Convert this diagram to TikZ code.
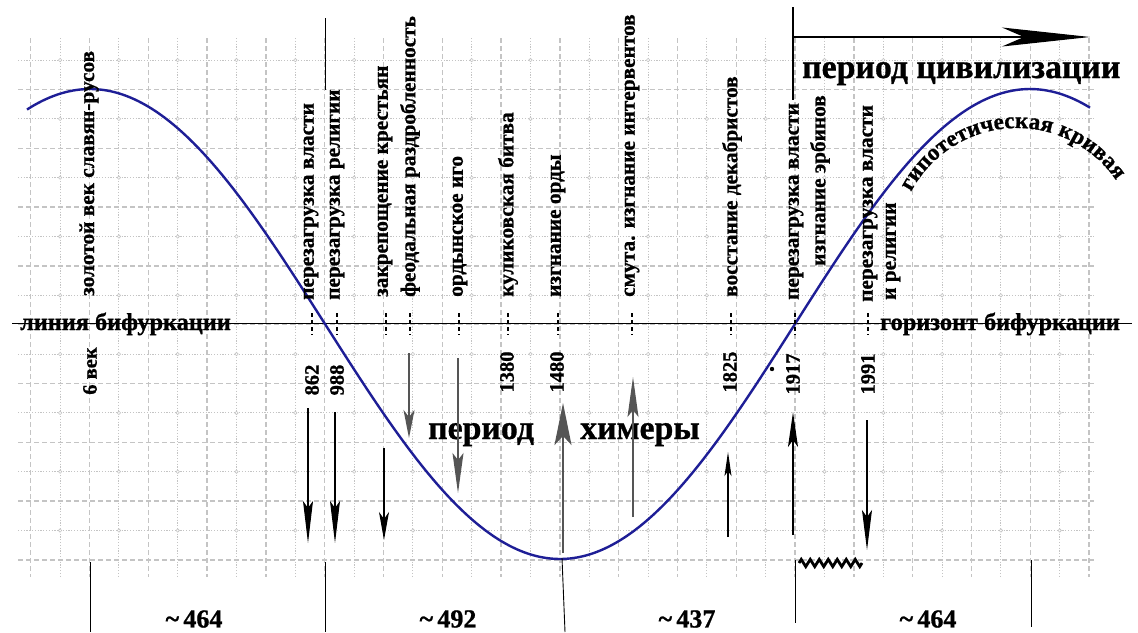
\documentclass[tikz,border=0pt]{standalone}
\usepackage{fontspec}
\setmainfont{Liberation Serif}[BoldFeatures={FakeBold=0.9}]
\usetikzlibrary{arrows.meta,decorations.pathmorphing}
\definecolor{gridc}{RGB}{196,196,196}
\definecolor{curvec}{RGB}{30,30,150}
\definecolor{arrg}{RGB}{85,85,85}
\newcommand{\curvfont}{\fontsize{23}{23}\selectfont\bfseries}
\begin{document}
\begin{tikzpicture}[x=1pt,y=-1pt,
  majorg/.style={draw=gridc,line width=1.3pt,dash pattern=on 5pt off 3pt},
  minorg/.style={draw=gridc,line width=0.9pt,dash pattern=on 1.2pt off 1.6pt},
  vlab/.style={rotate=90,anchor=west,font=\fontsize{21.3}{21.3}\selectfont\bfseries,inner sep=0pt},
  vlabe/.style={rotate=90,anchor=east,font=\fontsize{21.3}{21.3}\selectfont\bfseries,inner sep=0pt},
  yr/.style={rotate=90,font=\fontsize{20.5}{20.5}\selectfont\bfseries,inner sep=0pt},
  bigt/.style={anchor=base west,font=\fontsize{33.8}{33.8}\selectfont\bfseries,inner sep=0pt},
  midt/.style={anchor=base west,font=\fontsize{24.3}{24.3}\selectfont\bfseries,inner sep=0pt},
  numt/.style={font=\fontsize{26}{26}\selectfont\bfseries,inner sep=0pt},
  letter/.style={anchor=base,inner sep=0pt,font=\curvfont},
  evmark/.style={line width=2.2pt,dash pattern=on 4pt off 3pt},
  blk/.style={draw=black,line width=1.2pt,-{Stealth[length=#1,width=10pt,inset=7pt]}},
  gry/.style={draw=arrg,line width=1.4pt,-{Stealth[length=#1,width=11pt,inset=7pt]}},
  divl/.style={draw=black,line width=0.9pt},
  curvest/.style={draw=curvec,line width=2.4pt}
]
\useasboundingbox (0,0) rectangle (1138,632);
\fill[white] (0,0) rectangle (1138,632);
% grid
\foreach \i in {0,...,17} \draw[minorg] ({60.1+58.8*\i},38) -- ({60.1+58.8*\i},577);
\foreach \j in {0,...,8} \draw[minorg] (18,{60.1+58.8*\j}) -- (1094,{60.1+58.8*\j});
\foreach \i in {0,...,18} \draw[majorg] ({30.7+58.8*\i},38) -- ({30.7+58.8*\i},577);
\foreach \j in {0,...,8} \draw[majorg] (18,{89.5+58.8*\j}) -- (1094,{89.5+58.8*\j});
\foreach \i in {0,...,17} \foreach \j in {0,...,8}
  \draw[gridc,line width=0.6pt,fill=white] ({60.1+58.8*\i},{60.1+58.8*\j}) circle (1.7pt);
% bifurcation line
\coordinate (bl) at (12,323.5);
\coordinate (br) at (1132,323.5);
\draw[line width=1.4pt] (bl) -- (br);
% main curve
\draw[curvest] plot[domain=27:1090,samples=140,smooth] (\x,{324-235*cos((\x-90)*0.382979)});
\fill (772,369) circle (2.2pt);
% event marks on the line
\foreach \x in {312,337,386,410,459,508,558,632,731,795,868}
  \draw[evmark] (\x,313) -- (\x,335);
% vertical labels
\node[vlab] (l1) at (89,296) {золотой век славян-русов};
\node[vlab] (l2) at (311,300) {перезагрузка власти};
\node[vlab] (l3) at (337,300) {перезагрузка религии};
\node[vlab] (l4) at (385,297) {закрепощение крестьян};
\node[vlab] (l5) at (410,297) {феодальная раздробленность};
\node[vlab] (l6) at (460,297) {ордынское иго};
\node[vlab] (l7) at (508,297) {куликовская битва};
\node[vlab] (l8) at (558,297) {изгнание орды};
\node[vlab] (l9) at (632,297) {смута. изгнание интервентов};
\node[vlab] (l10) at (732,297) {восстание декабристов};
\node[vlab] (l11) at (796,300) {перезагрузка власти};
\node[vlabe] (l12) at (820,95) {изгнание эрбинов};
\node[vlab] (l13) at (870,302) {перезагрузка власти};
\node[vlab] (l14) at (893,300) {и религии};
% years
\node[yr] (y0) at (90,371) {6 век};
\node[yr] (y1) at (312,380) {862};
\node[yr] (y2) at (337,380) {988};
\node[yr] (y3) at (507,372) {1380};
\node[yr] (y4) at (557,372) {1480};
\node[yr] (y5) at (730,372) {1825};
\node[yr] (y6) at (793,374) {1917};
\node[yr] (y7) at (868,374) {1991};
% line labels
\node[midt] (lb1) at (20,330) {линия бифуркации};
\node[midt] (lb2) at (880,330) {горизонт бифуркации};
% period labels
\node[bigt] (pc) at (802,78) {период цивилизации};
\node[bigt] (ph1) at (428,439) {период};
\node[bigt] (ph2) at (580,439) {химеры};
% top arrow
\coordinate (t0) at (793,7);
\coordinate (t1) at (793,100);
\coordinate (ta) at (793,37);
\coordinate (tb) at (1090,37);
\draw[line width=1.2pt] (t0) -- (t1);
\draw[line width=2.4pt,-{Stealth[length=88pt,width=19pt,inset=22pt]}] (ta) -- (tb);
\coordinate (u0) at (325,18);
\coordinate (u1) at (325,90);
\draw[divl] (u0) -- (u1);
% arrows
\coordinate (a1s) at (308,408); \coordinate (a1e) at (308,543);
\coordinate (a2s) at (335,412); \coordinate (a2e) at (335,543);
\coordinate (a3s) at (384,448); \coordinate (a3e) at (384,540);
\coordinate (a4s) at (409,353); \coordinate (a4e) at (409,438);
\coordinate (a5s) at (458,358); \coordinate (a5e) at (458,493);
\coordinate (a6s) at (563,553); \coordinate (a6e) at (563,403);
\coordinate (a7s) at (633,517); \coordinate (a7e) at (633,377);
\coordinate (a8s) at (728,537); \coordinate (a8e) at (728,452);
\coordinate (a9s) at (793,535); \coordinate (a9e) at (793,412);
\coordinate (a10s) at (867,420); \coordinate (a10e) at (867,550);
\draw[blk=42pt] (a1s) -- (a1e);
\draw[blk=42pt] (a2s) -- (a2e);
\draw[blk=28pt] (a3s) -- (a3e);
\draw[gry=28pt] (a4s) -- (a4e);
\draw[gry=40pt] (a5s) -- (a5e);
\draw[draw=arrg,line width=2pt,-{Stealth[length=42pt,width=17pt,inset=9pt]}] (a6s) -- (a6e);
\draw[gry=40pt] (a7s) -- (a7e);
\draw[draw=black,line width=1.1pt,-{Stealth[length=24pt,width=7pt,inset=5pt]}] (a8s) -- (a8e);
\draw[blk=35pt] (a9s) -- (a9e);
\draw[blk=40pt] (a10s) -- (a10e);
% zigzag
\coordinate (z0) at (799,563);
\coordinate (z1) at (862,563);
\draw[line width=2.8pt,line join=miter,decorate,decoration={zigzag,segment length=9pt,amplitude=3.6pt}] (z0) -- (z1);
% dividers
\coordinate (d1a) at (90,562); \coordinate (d1b) at (90,632);
\coordinate (d2a) at (325,562); \coordinate (d2b) at (325,632);
\coordinate (d3a) at (562,558); \coordinate (d3b) at (565,632);
\coordinate (d4a) at (795,560); \coordinate (d4b) at (795,623);
\coordinate (d5a) at (1031,560); \coordinate (d5b) at (1031,627);
\foreach \k in {1,...,5} \draw[divl] (d\k a) -- (d\k b);
% span numbers
\node[numt] (n1) at (194,619) {\textasciitilde\,464};
\node[numt] (n2) at (448,619) {\textasciitilde\,492};
\node[numt] (n3) at (687,619) {\textasciitilde\,437};
\node[numt] (n4) at (928,619) {\textasciitilde\,464};
% curved text, letter by letter on an arc
\begin{scope}
\curvfont
\gdef\arcpos{0}
\foreach \ch in {г,и,п,о,т,е,т,и,ч,е,с,к,а,я,|,к,р,и,в,а,я}{
  \def\bar{|}
  \ifx\ch\bar
    \pgfmathsetmacro{\np}{\arcpos+6}
    \xdef\arcpos{\np}
  \else
    \pgfmathsetmacro{\w}{width("\ch")}
    \pgfmathsetmacro{\th}{-62.1+(\arcpos+\w/2)/120*57.2958}
    \node[letter,rotate=-\th] at ({1017+120*sin(\th)},{248-120*cos(\th)}) {\ch};
    \pgfmathsetmacro{\np}{\arcpos+\w}
    \xdef\arcpos{\np}
  \fi
}
\end{scope}
\end{tikzpicture}
\end{document}
